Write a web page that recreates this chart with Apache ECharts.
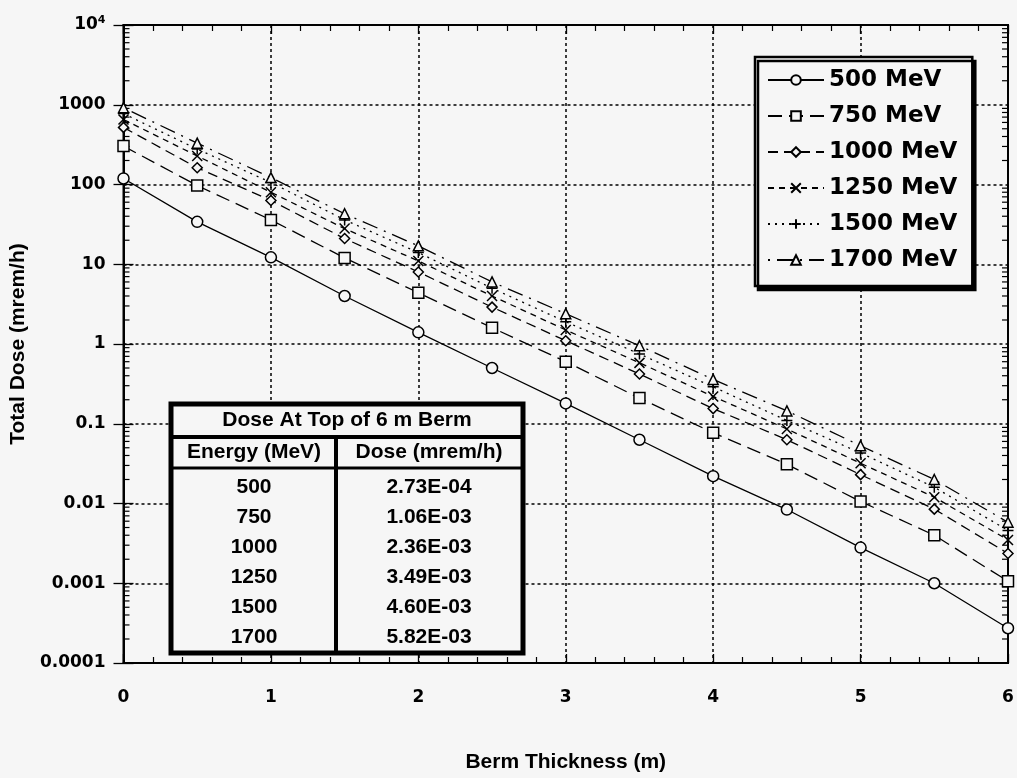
<!DOCTYPE html>
<html><head><meta charset="utf-8">
<script src="https://cdn.jsdelivr.net/npm/echarts@6/dist/echarts.min.js"></script>
<style>html,body{margin:0;padding:0;background:#f6f6f6}#c{width:1017px;height:778px}</style>
</head><body><div id="c"></div>
<script>
// ---- data ----
const thickness = [0, 0.5, 1, 1.5, 2, 2.5, 3, 3.5, 4, 4.5, 5, 5.5, 6];
const dose500  = [119, 34, 12.2, 4.0, 1.4, 0.50, 0.18, 0.063, 0.022, 0.0084, 0.0028, 0.0010, 0.000273];
const dose750  = [303, 97, 36, 12, 4.4, 1.6, 0.60, 0.21, 0.077, 0.031, 0.0106, 0.0040, 0.00106];
const dose1000 = [520, 162, 63, 21, 8.0, 2.9, 1.1, 0.42, 0.155, 0.063, 0.023, 0.0085, 0.00236];
const dose1250 = [653, 228, 80, 28, 11, 4.0, 1.5, 0.58, 0.22, 0.086, 0.032, 0.012, 0.00349];
const dose1500 = [774, 278, 106, 36, 14, 5.0, 1.9, 0.75, 0.29, 0.11, 0.043, 0.016, 0.0046];
const dose1700 = [918, 330, 122, 43, 17, 6.0, 2.4, 0.95, 0.36, 0.145, 0.053, 0.020, 0.00582];
const seriesNames = ['500 MeV', '750 MeV', '1000 MeV', '1250 MeV', '1500 MeV', '1700 MeV'];
const xTickLabels = ['0', '1', '2', '3', '4', '5', '6'];
const yTickLabels = ['0.0001', '0.001', '0.01', '0.1', '1', '10', '100', '1000', '10{sup|4}'];
const tableTitle = 'Dose At Top of 6 m Berm';
const tableHeaders = ['Energy (MeV)', 'Dose (mrem/h)'];
const tableEnergies = ['500', '750', '1000', '1250', '1500', '1700'];
const tableDoses = ['2.73E-04', '1.06E-03', '2.36E-03', '3.49E-03', '4.60E-03', '5.82E-03'];

// minor tick values for the log axis (2..9 in each decade)
const yMinorTicks = [];
for (let e = -4; e < 4; e++) for (let m = 2; m <= 9; m++) yMinorTicks.push(m * Math.pow(10, e));

// ---- chart ----
const BG = '#f6f6f6';
const FONT = 'DejaVu Sans';
const chart = echarts.init(document.getElementById('c'), null, {renderer: 'canvas'});

function pts(arr) { return thickness.map((x, i) => [x, arr[i]]); }
const styles = [
  {data: dose500,  symbol: 'circle',   size: 11, dash: 'solid'},
  {data: dose750,  symbol: 'rect',     size: 11, dash: [14, 7]},
  {data: dose1000, symbol: 'diamond',  size: 10, dash: [10, 6]},
  {data: dose1250, symbol: 'path://M0,0L10,10M10,0L0,10', size: 10, dash: [6, 5]},
  {data: dose1500, symbol: 'path://M5,0L5,10M0,5L10,5', size: 11, dash: [2, 5]},
  {data: dose1700, symbol: 'triangle', size: 10, dash: [2, 7, 16, 7]}
];

const lineSeries = styles.map((s, i) => ({
  name: seriesNames[i],
  type: 'line',
  data: pts(s.data),
  symbol: s.symbol,
  symbolSize: s.size,
  showAllSymbol: true,
  lineStyle: {color: '#000', width: 1.3, type: s.dash},
  itemStyle: {color: s.symbol.startsWith('path') ? '#000' : BG, borderColor: '#000', borderWidth: 1.5},
  emphasis: {disabled: true},
  z: 3
}));

const minorTickSeries = {
  type: 'custom',
  silent: true,
  data: yMinorTicks.map(v => [0, v]),
  renderItem: function (params, api) {
    const v = api.value(1);
    const pL = api.coord([0, v]);
    const pR = api.coord([6, v]);
    return {type: 'group', children: [
      {type: 'line', shape: {x1: pL[0], y1: pL[1], x2: pL[0] + 6, y2: pL[1]}, style: {stroke: '#000', lineWidth: 1.2}},
      {type: 'line', shape: {x1: pR[0], y1: pR[1], x2: pR[0] - 6, y2: pR[1]}, style: {stroke: '#000', lineWidth: 1.2}}
    ]};
  },
  z: 2
};

// table graphic built from the arrays
const T = {x: 171, y: 404, w: 352, h: 249, colX: 336, hdr1: 437, hdr2: 468, rowStart: 487, rowStep: 30, c1: 254, c2: 429};
const tableFont = 'bold 21px "Liberation Sans"';
const ZT = 200;
const tableEls = [
  {type: 'rect', z: ZT, shape: {x: T.x, y: T.y, width: T.w, height: T.h}, style: {fill: BG, stroke: '#000', lineWidth: 5}},
  {type: 'line', z: ZT + 1, shape: {x1: T.x, y1: T.hdr1, x2: T.x + T.w, y2: T.hdr1}, style: {stroke: '#000', lineWidth: 4}},
  {type: 'line', z: ZT + 1, shape: {x1: T.x, y1: T.hdr2, x2: T.x + T.w, y2: T.hdr2}, style: {stroke: '#000', lineWidth: 3}},
  {type: 'line', z: ZT + 1, shape: {x1: T.colX, y1: T.hdr1, x2: T.colX, y2: T.y + T.h}, style: {stroke: '#000', lineWidth: 4}},
  {type: 'text', z: ZT + 2, x: (T.x + T.x + T.w) / 2, y: (T.y + T.hdr1) / 2, style: {text: tableTitle, font: tableFont, fill: '#000', align: 'center', verticalAlign: 'middle'}},
  {type: 'text', z: ZT + 2, x: T.c1, y: (T.hdr1 + T.hdr2) / 2, style: {text: tableHeaders[0], font: tableFont, fill: '#000', align: 'center', verticalAlign: 'middle'}},
  {type: 'text', z: ZT + 2, x: T.c2, y: (T.hdr1 + T.hdr2) / 2, style: {text: tableHeaders[1], font: tableFont, fill: '#000', align: 'center', verticalAlign: 'middle'}}
];
tableEnergies.forEach((e, i) => {
  tableEls.push({type: 'text', z: ZT + 2, x: T.c1, y: T.rowStart + i * T.rowStep, style: {text: e, font: tableFont, fill: '#000', align: 'center', verticalAlign: 'middle'}});
  tableEls.push({type: 'text', z: ZT + 2, x: T.c2, y: T.rowStart + i * T.rowStep, style: {text: tableDoses[i], font: tableFont, fill: '#000', align: 'center', verticalAlign: 'middle'}});
});

const option = {
  backgroundColor: BG,
  animation: false,
  grid: {left: 121, right: 9, top: 25, bottom: 112, show: true, borderColor: '#000', borderWidth: 2, backgroundColor: 'transparent'},
  legend: {
    orient: 'vertical', left: 755, top: 57,
    data: seriesNames,
    itemWidth: 56, itemHeight: 12, itemGap: 10,
    padding: [10, 15, 13, 12],
    backgroundColor: BG, borderColor: '#000', borderWidth: 2.5,
    shadowColor: '#000', shadowBlur: 0, shadowOffsetX: 3, shadowOffsetY: 4,
    textStyle: {fontFamily: FONT, fontWeight: 'bold', fontSize: 23, color: '#000', lineHeight: 26},
    selectedMode: false
  },
  xAxis: [{
    type: 'value', min: 0, max: 6, interval: 1,
    name: 'Berm Thickness (m)', nameLocation: 'middle', nameGap: 89,
    nameTextStyle: {fontFamily: 'Liberation Sans', fontWeight: 'bold', fontSize: 21, color: '#000'},
    axisLine: {show: true, lineStyle: {color: '#000', width: 2}},
    axisTick: {show: true, inside: true, length: 9, lineStyle: {color: '#000', width: 1.3}},
    minorTick: {show: true, splitNumber: 5, length: 6, lineStyle: {color: '#000', width: 1.2}},
    axisLabel: {margin: 26, fontFamily: FONT, fontWeight: 'bold', fontSize: 17, color: '#000',
      formatter: v => xTickLabels[Math.round(v)] ?? ''},
    splitLine: {show: true, lineStyle: {color: '#000', width: 1.5, type: [3, 3]}}
  }, {
    type: 'value', min: 0, max: 6, interval: 1, position: 'top',
    axisLine: {show: true, lineStyle: {color: '#000', width: 2}},
    axisTick: {show: true, inside: true, length: 9, lineStyle: {color: '#000', width: 1.3}},
    minorTick: {show: true, splitNumber: 5, length: 6, lineStyle: {color: '#000', width: 1.2}},
    axisLabel: {show: false}, splitLine: {show: false}
  }],
  yAxis: [{
    type: 'log', logBase: 10, min: 0.0001, max: 10000, splitNumber: 8,
    name: 'Total Dose (mrem/h)', nameLocation: 'middle', nameGap: 82,
    nameTextStyle: {fontFamily: 'Liberation Sans', fontWeight: 'bold', fontSize: 21, color: '#000'},
    axisLine: {show: true, lineStyle: {color: '#000', width: 2}},
    axisTick: {show: true, inside: true, length: 10, lineStyle: {color: '#000', width: 1.3}},
    axisLabel: {margin: 18, fontFamily: FONT, fontWeight: 'bold', fontSize: 17, color: '#000',
      formatter: v => yTickLabels[Math.round(Math.log10(v)) + 4] ?? '',
      rich: {sup: {fontFamily: FONT, fontWeight: 'bold', fontSize: 11, color: '#000', verticalAlign: 'top', padding: [0, 0, 10, 0]}}},
    splitLine: {show: true, lineStyle: {color: '#000', width: 1.5, type: [3, 3]}}
  }, {
    type: 'log', logBase: 10, min: 0.0001, max: 10000, splitNumber: 8, position: 'right',
    axisLine: {show: true, lineStyle: {color: '#000', width: 2}},
    axisTick: {show: true, inside: true, length: 10, lineStyle: {color: '#000', width: 1.3}},
    axisLabel: {show: false}, splitLine: {show: false}
  }],
  series: [minorTickSeries].concat(lineSeries),
  graphic: {elements: tableEls}
};
chart.setOption(option);
</script>
</body></html>
